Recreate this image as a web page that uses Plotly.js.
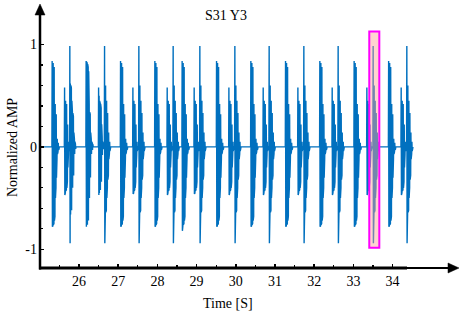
<!DOCTYPE html>
<html>
<head>
<meta charset="utf-8">
<script src="https://cdn.plot.ly/plotly-3.0.1.min.js"></script>
<style>html,body{margin:0;padding:0;background:#fff;}#chart{width:460px;height:313px;}</style>
</head>
<body>
<div id="chart"></div>
<script>
// ---- data ----
const signalStart = 25.05;
const signalEnd = 34.52;
// onset times [s] of the three burst types in each cycle
const burstTimesA = [25.315, 26.182, 27.060, 27.935, 28.631, 29.509, 30.384, 31.269, 32.144, 33.019, 33.899];
const burstTimesB = [25.632, 26.500, 27.375, 28.250, 28.938, 29.824, 30.699, 31.584, 32.459, 33.344, 34.219];
const burstTimesC = [25.766, 26.652, 27.527, 28.402, 29.083, 29.976, 30.851, 31.736, 32.611, 33.504, 34.363];
// extreme values of each burst
const peaksA   = [0.84, 0.84, 0.84, 0.84, 0.84, 0.84, 0.84, 0.84, 0.84, 0.84, 0.84];
const troughsA = [-0.78, -0.78, -0.78, -0.78, -0.82, -0.78, -0.78, -0.78, -0.78, -0.78, -0.78];
const peaksB   = [0.58, 0.58, 0.58, 0.58, 0.58, 0.58, 0.58, 0.58, 0.58, 0.58, 0.58];
const troughsB = [-0.47, -0.47, -0.46, -0.47, -0.46, -0.47, -0.47, -0.47, -0.47, -0.47, -0.47];
const peaksC   = [0.985, 0.985, 0.985, 0.985, 0.985, 0.985, 0.985, 0.985, 0.985, 0.985, 0.985];
const troughsC = [-0.94, -0.94, -0.94, -0.94, -0.94, -0.94, -0.94, -0.94, -0.94, -0.94, -0.94];
// oscillation samples within each burst type (after the first peak/trough)
const shapeA = [0.83, -0.77, 0.82, -0.76, 0.81, -0.75, 0.78, -0.72, 0.74, -0.68, 0.42, -0.50, 0.34, -0.40, 0.32, -0.30, 0.14, -0.12, 0.08, -0.07, 0.05, -0.05, 0.04, -0.03, 0.03, -0.02];
const shapeB = [0.50, -0.45, 0.45, -0.43, 0.43, -0.42, 0.42, -0.40, 0.38, -0.34, 0.22, -0.20, 0.10, -0.08, 0.05, -0.04, 0.03, -0.02];
const shapeC = [0.62, -0.66, 0.60, -0.64, 0.58, -0.62, 0.45, -0.50, 0.35, -0.40, 0.33, -0.32, 0.30, -0.28, 0.14, -0.12, 0.08, -0.07, 0.05, -0.04, 0.03, -0.02];
const sampleStep = 0.0065; // s between samples inside a burst
const xTickVals = [26, 27, 28, 29, 30, 31, 32, 33, 34];
const xMinorVals = [25.5, 26.5, 27.5, 28.5, 29.5, 30.5, 31.5, 32.5, 33.5];
const yTickVals = [-1, 0, 1];
const yTickText = ['-1', '0', '1'];
const yMinorVals = [-0.8, -0.6, -0.4, -0.2, 0.2, 0.4, 0.6, 0.8];
const highlight = {t0: 33.405, t1: 33.661, y0: -0.984, y1: 1.128};

// ---- build the trace ----
const bursts = [];
function addBursts(times, peaks, troughs, shape) {
  times.forEach((t, i) => bursts.push({t: t, vals: [peaks[i], troughs[i]].concat(shape)}));
}
addBursts(burstTimesA, peaksA, troughsA, shapeA);
addBursts(burstTimesB, peaksB, troughsB, shapeB);
addBursts(burstTimesC, peaksC, troughsC, shapeC);
bursts.sort((a, b) => a.t - b.t);
const xs = [signalStart], ys = [0];
bursts.forEach(b => {
  xs.push(b.t - sampleStep); ys.push(0);
  b.vals.forEach((v, k) => { xs.push(b.t + k * sampleStep); ys.push(v); });
  xs.push(b.t + b.vals.length * sampleStep); ys.push(0);
});
xs.push(signalEnd); ys.push(0);

const W = 460, H = 313, L = 40, R = 1, T = 4, B = 45;
const pw = W - L - R, ph = H - T - B;
const px = v => (v - L) / pw;          // pixel -> paper x
const py = v => (H - B - v) / ph;      // pixel -> paper y
const font = {family: '"Liberation Serif", "Times New Roman", serif', size: 14, color: '#000'};

const trace = {x: xs, y: ys, type: 'scatter', mode: 'lines',
  line: {color: '#0070BF', width: 1.4}, hoverinfo: 'skip'};

const layout = {
  width: W, height: H,
  margin: {l: L, r: R, t: T, b: B, pad: 0},
  paper_bgcolor: '#fff', plot_bgcolor: '#fff',
  showlegend: false,
  font: font,
  title: {text: 'S31 Y3', font: font, x: 226 / W, xref: 'container', xanchor: 'center',
          y: 1 - 15 / H, yref: 'container', yanchor: 'middle'},
  xaxis: {range: [25.005, 35.694], showgrid: false, zeroline: false, showline: false,
          tickmode: 'array', tickvals: xTickVals, ticks: 'inside', ticklen: 4, tickwidth: 1.5,
          tickcolor: '#000', tickfont: font, ticklabelstandoff: 3,
          minor: {tickmode: 'array', tickvals: xMinorVals, ticks: 'inside', ticklen: 3, tickwidth: 1.2, tickcolor: '#000', showgrid: false}},
  yaxis: {range: [-1.183, 1.396], showgrid: false, zeroline: false, showline: false,
          tickmode: 'array', tickvals: yTickVals, ticktext: yTickText, ticks: 'inside', ticklen: 4, tickwidth: 1.5,
          tickcolor: '#000', tickfont: font, ticklabelstandoff: 2,
          minor: {tickmode: 'array', tickvals: yMinorVals, ticks: 'inside', ticklen: 3, tickwidth: 1.2, tickcolor: '#000', showgrid: false}},
  annotations: [
    {text: 'Time [S]', xref: 'paper', yref: 'paper', x: px(228), y: py(303), showarrow: false, font: font, xanchor: 'center', yanchor: 'middle'},
    {text: 'Normalized AMP', xref: 'paper', yref: 'paper', x: px(12), y: py(148), showarrow: false, font: font, textangle: -90, xanchor: 'center', yanchor: 'middle'}
  ],
  shapes: [
    {type: 'rect', xref: 'x', yref: 'y', x0: highlight.t0, x1: highlight.t1, y0: highlight.y0, y1: highlight.y1,
     line: {color: '#FF00FF', width: 2}, fillcolor: 'rgba(255,160,150,0.45)', layer: 'above'},
    {type: 'line', xref: 'paper', yref: 'paper', x0: 0, x1: 0, y0: py(269.5), y1: py(12), line: {color: '#000', width: 2.5}},
    {type: 'path', xref: 'paper', yref: 'paper', path: `M ${px(40)},${py(4)} L ${px(35)},${py(15)} L ${px(45)},${py(15)} Z`, fillcolor: '#000', line: {color: '#000', width: 0.5}},
    {type: 'line', xref: 'paper', yref: 'paper', x0: px(39), x1: px(407), y0: 0, y1: 0, line: {color: '#000', width: 3}},
    {type: 'line', xref: 'paper', yref: 'paper', x0: px(407), x1: px(450), y0: 0, y1: 0, line: {color: '#000', width: 2}},
    {type: 'path', xref: 'paper', yref: 'paper', path: `M ${px(459)},${py(268)} L ${px(448)},${py(263)} L ${px(448)},${py(273)} Z`, fillcolor: '#000', line: {color: '#000', width: 0.5}}
  ]
};
Plotly.newPlot('chart', [trace], layout, {staticPlot: true, displayModeBar: false});
</script>
</body>
</html>
